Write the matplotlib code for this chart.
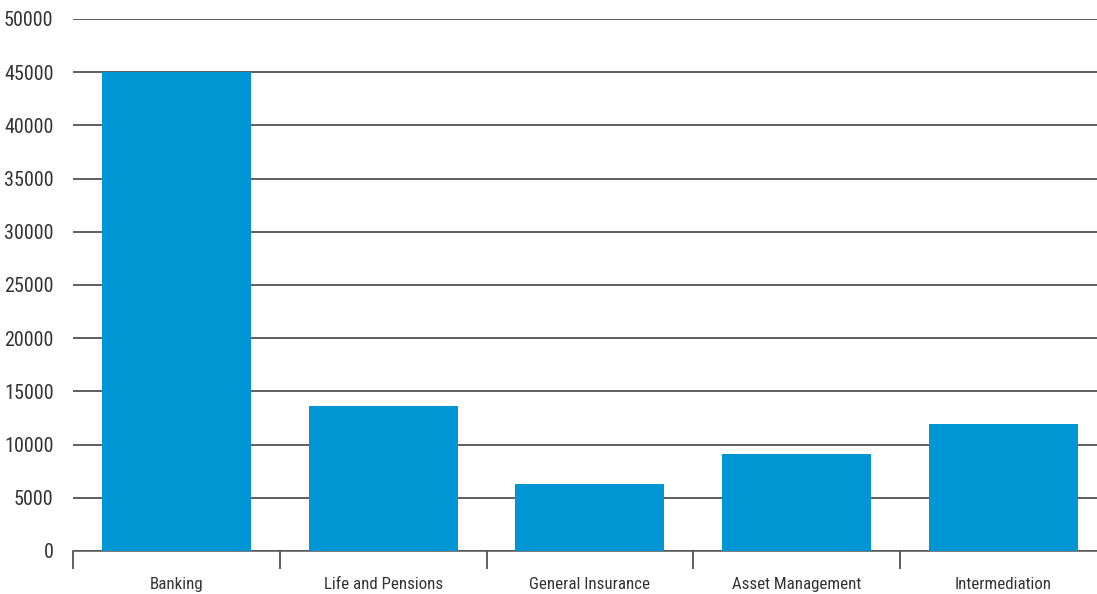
import matplotlib
matplotlib.use("Agg")
import matplotlib.pyplot as plt
from matplotlib import font_manager

categories = ["Banking", "Life and Pensions", "General Insurance", "Asset Management", "Intermediation"]
values = [45000, 13600, 6300, 9100, 11900]
yticks = [0, 5000, 10000, 15000, 20000, 25000, 30000, 35000, 40000, 45000, 50000]

names = {f.name for f in font_manager.fontManager.ttflist}
fam = [n for n in ["Liberation Sans Narrow", "Roboto Condensed", "Roboto", "DejaVu Sans"] if n in names]
plt.rcParams['font.family'] = fam

fig = plt.figure(figsize=(10.97, 5.94), dpi=100)
ax = fig.add_axes([73/1097, 43/594, 1033.75/1097, 532/594])

x = list(range(len(categories)))
ax.bar(x, values, width=0.72, color="#0096D6", zorder=3)
ax.set_xlim(-0.5, len(categories) - 0.5)
ax.set_ylim(0, 50000)
ax.set_yticks(yticks)
ax.set_yticklabels([str(v) for v in yticks], fontsize=14.5, color="#333333")
ax.grid(axis="y", color="#333333", linewidth=1.1, zorder=0)
ax.tick_params(axis="y", length=0, pad=14)

ax.set_xticks(x)
ax.set_xticklabels(categories, fontsize=12.2, color="#333333")
ax.tick_params(axis="x", length=0, pad=19)
ax.set_xticks([i - 0.5 for i in range(len(categories) + 1)], minor=True)
ax.tick_params(axis="x", which="minor", length=13, width=1.1, color="#333333", direction="out")

for s in ["top", "right", "left"]:
    ax.spines[s].set_visible(False)
ax.spines["bottom"].set_color("#555555")
ax.spines["bottom"].set_linewidth(1.1)

fig.savefig("out.png", dpi=100)
